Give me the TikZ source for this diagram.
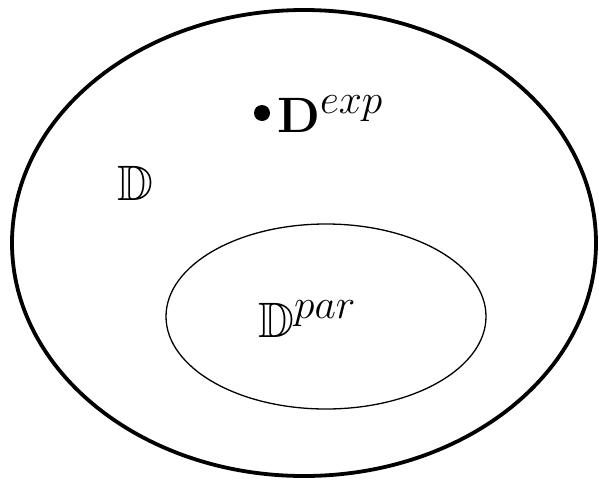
\documentclass[tikz,border=0pt]{standalone}
\usepackage{graphicx}
\usepackage{amssymb}
\newcommand{\biglab}[1]{\scalebox{2.0}{\Huge$#1$}}
\begin{document}
\begin{tikzpicture}[x=1pt,y=-1pt,
  outerset/.style={line width=3.8pt},
  innerset/.style={line width=1.3pt},
  lab/.style={inner sep=0pt,anchor=base west}]
\useasboundingbox (0,0) rectangle (599,482);
\draw[outerset] (304,243) ellipse [x radius=292, y radius=233];
\draw[innerset] (326,316.5) ellipse [x radius=160, y radius=92.5];
\fill (262,113) circle [radius=8];
\node[lab] (dexp) at (277,132) {\biglab{\mathbf{D}^{exp}}};
\node[lab] (dd) at (117,200) {\biglab{\mathbb{D}}};
\node[lab] (dpar) at (258,337) {\biglab{\mathbb{D}^{par}}};
\end{tikzpicture}
\end{document}
